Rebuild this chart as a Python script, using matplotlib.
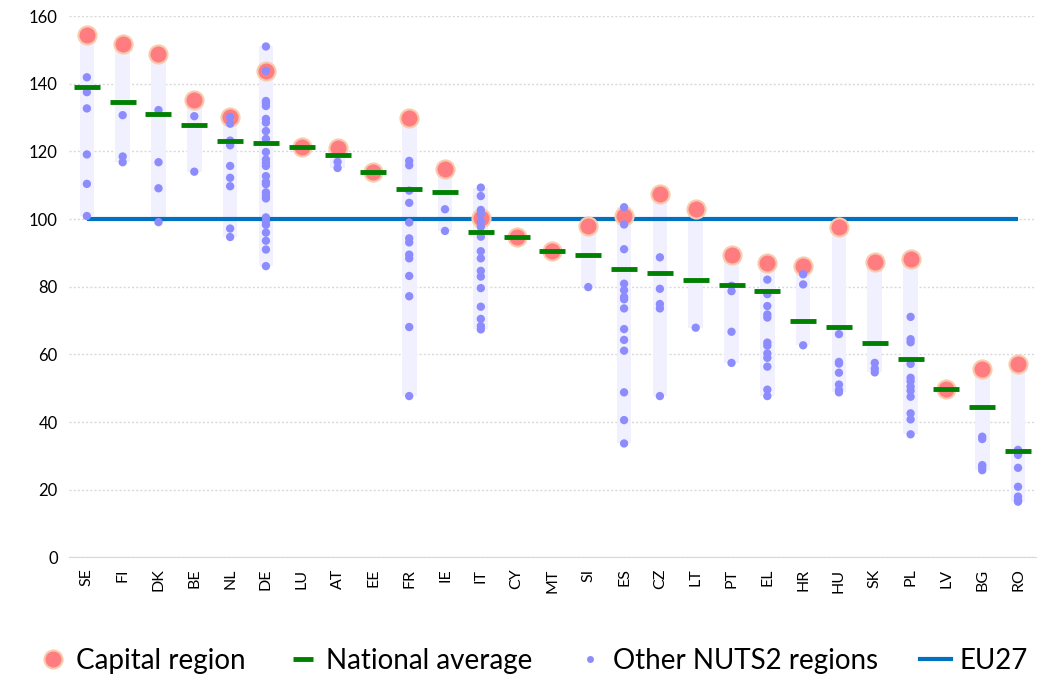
import numpy as np
import matplotlib
matplotlib.use("Agg")
import matplotlib.pyplot as plt
from matplotlib.lines import Line2D

plt.rcParams['font.family'] = ['Lato', 'DejaVu Sans']

countries = ["SE", "FI", "DK", "BE", "NL", "DE", "LU", "AT", "EE", "FR", "IE", "IT", "CY", "MT",
             "SI", "ES", "CZ", "LT", "PT", "EL", "HR", "HU", "SK", "PL", "LV", "BG", "RO"]

capital = [154.4, 151.6, 148.8, 135.1, 130.1, 143.8, 121.4, 120.9, 114.0, 129.9, 114.8, 100.2, 94.6, 90.5,
           98.0, 101.0, 107.4, 102.9, 89.5, 86.9, 86.0, 97.6, 87.3, 88.1, 49.7, 55.6, 57.1]

national = [139.1, 134.7, 131.1, 127.7, 123.2, 122.5, 121.4, 118.8, 114.0, 108.8, 107.9, 96.1, 94.6, 90.5,
            89.4, 85.3, 84.0, 82.0, 80.4, 78.6, 69.8, 68.0, 63.3, 58.6, 49.8, 44.6, 31.4]

others = [
    [141.9, 137.5, 132.7, 119.1, 110.4, 100.9],                               # SE
    [130.7, 118.5, 116.8],                                                    # FI
    [132.2, 116.8, 109.1, 99.1],                                              # DK
    [130.4, 114.0],                                                           # BE
    [130.2, 128.2, 123.2, 121.8, 115.7, 112.2, 109.7, 97.2, 94.7],            # NL
    [151.0, 143.8, 134.9, 134.2, 133.4, 129.6, 128.5, 126.0, 123.7, 119.8,
     117.6, 116.6, 115.7, 112.7, 111.0, 110.3, 107.9, 106.9, 106.1, 100.5,
     99.3, 98.3, 96.0, 93.6, 91.0, 86.1],                                     # DE
    [],                                                                       # LU
    [116.9, 115.1],                                                           # AT
    [],                                                                       # EE
    [117.2, 115.9, 108.4, 104.8, 99.0, 94.3, 93.1, 89.5, 88.4, 83.2, 77.2,
     68.1, 47.7],                                                             # FR
    [102.9, 96.5],                                                            # IE
    [109.3, 106.8, 102.7, 101.4, 99.2, 97.7, 94.8, 90.5, 88.4, 84.7, 83.0,
     79.6, 74.1, 70.5, 68.4, 67.4],                                           # IT
    [],                                                                       # CY
    [],                                                                       # MT
    [79.9],                                                                   # SI
    [103.5, 98.4, 91.1, 80.9, 79.0, 77.0, 76.3, 73.6, 67.5, 64.3, 61.1,
     48.8, 40.6, 33.7],                                                       # ES
    [88.7, 79.4, 74.9, 73.6, 47.7],                                           # CZ
    [67.9],                                                                   # LT
    [80.3, 78.7, 66.7, 57.5],                                                 # PT
    [82.1, 77.8, 74.3, 71.8, 70.9, 63.5, 62.6, 60.3, 59.0, 56.4, 49.6, 47.7], # EL
    [83.7, 80.7, 62.7],                                                       # HR
    [66.0, 57.8, 57.3, 54.6, 51.1, 49.5, 48.8],                               # HU
    [57.5, 55.8, 54.7],                                                       # SK
    [71.1, 64.5, 63.6, 57.2, 53.1, 52.1, 50.5, 49.3, 47.5, 42.6, 40.8, 36.4], # PL
    [],                                                                       # LV
    [35.7, 35.0, 27.3, 26.6, 25.8],                                           # BG
    [31.8, 30.3, 26.5, 20.9, 18.0, 17.0, 16.5],                               # RO
]

eu27 = 100

fig = plt.figure(figsize=(10.48, 6.76), dpi=100)
ax = fig.add_axes([0.0658, 0.1753, 0.9227, 0.801])

x = np.arange(len(countries))

# range band for each country (min..max of all its regions)
lo = [min([c] + o) for c, o in zip(capital, others)]
hi = [max([c] + o) for c, o in zip(capital, others)]
ax.bar(x, np.array(hi) - np.array(lo), bottom=lo, width=0.41, color='#F0F0FF', zorder=1)

ax.plot(x, [eu27] * len(x), color='#0070C0', lw=3, zorder=2, solid_capstyle='butt')

ax.scatter(x, capital, s=170, color='#FF7C80', edgecolors='#F8CBAD', linewidths=1.5, zorder=3)

ox = [i for i, o in enumerate(others) for _ in o]
oy = [v for o in others for v in o]
ax.scatter(ox, oy, s=36, color='#8C8CFF', edgecolors='none', zorder=4)

ax.scatter(x, national, marker='_', s=330, color='#008000', linewidths=3.5, zorder=5)

ax.set_xlim(-0.5, len(x) - 0.5)
ax.set_ylim(0, 160)
ax.set_yticks(np.arange(0, 161, 20))
ax.set_xticks(x)
ax.set_xticklabels(countries, rotation=90, fontsize=11.5)
ax.tick_params(axis='y', labelsize=12, length=0, pad=8)
ax.tick_params(axis='x', length=0, pad=8)
ax.yaxis.grid(True, color='#D9D9D9', ls=(0, (1.5, 1.5)), lw=1)
ax.set_axisbelow(True)
for s in ['top', 'right', 'left']:
    ax.spines[s].set_visible(False)
ax.spines['bottom'].set_color('#D9D9D9')

handles = [
    Line2D([], [], ls='none', marker='o', ms=13, mfc='#FF7C80', mec='#F8CBAD', mew=1.5),
    Line2D([], [], ls='none', marker='_', ms=14, mec='#008000', mew=3.5),
    Line2D([], [], ls='none', marker='o', ms=5, mfc='#8C8CFF', mec='none'),
    Line2D([], [], color='#0070C0', lw=3),
]
labels = ["Capital region", "National average", "Other NUTS2 regions", "EU27"]
fig.legend(handles, labels, loc='center', bbox_to_anchor=(0.508, 0.022), ncol=4, frameon=False,
           fontsize=20, handlelength=1.1, handletextpad=0.3, columnspacing=1.5)

fig.savefig("out.png", dpi=100)
